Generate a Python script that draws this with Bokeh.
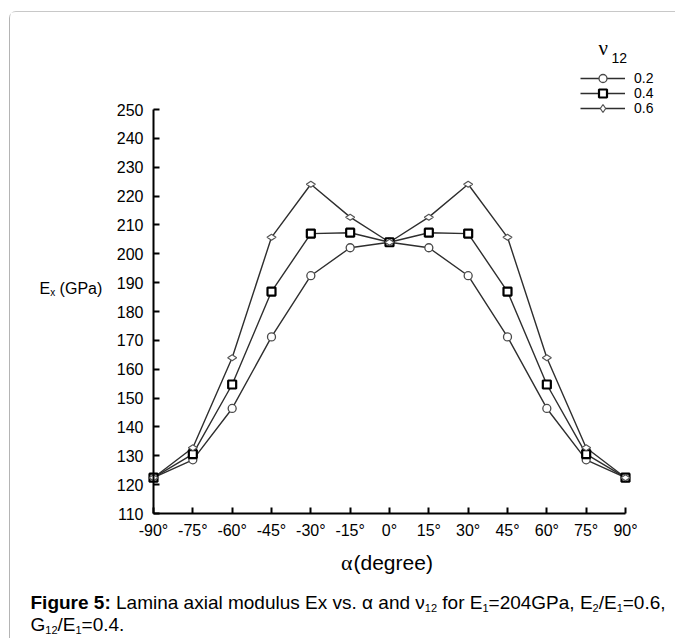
import math
from bokeh.plotting import figure
from bokeh.models import FixedTicker, Label, Legend, LegendItem
from bokeh.embed import file_html
from bokeh.resources import INLINE

# ---------------- data ----------------
alpha_deg = [-90, -75, -60, -45, -30, -15, 0, 15, 30, 45, 60, 75, 90]
ex_nu02 = [122.4, 128.6, 146.4, 171.2, 192.4, 202.1, 204.0, 202.1, 192.4, 171.2, 146.4, 128.6, 122.4]
ex_nu04 = [122.4, 130.6, 154.7, 186.9, 207.0, 207.3, 204.0, 207.3, 207.0, 186.9, 154.7, 130.6, 122.4]
ex_nu06 = [122.4, 132.8, 164.0, 205.7, 224.1, 212.7, 204.0, 212.7, 224.1, 205.7, 164.0, 132.8, 122.4]
series_labels = ["0.2", "0.4", "0.6"]
x_ticks = [-90, -75, -60, -45, -30, -15, 0, 15, 30, 45, 60, 75, 90]
x_tick_labels = ["-90°", "-75°", "-60°", "-45°", "-30°", "-15°", "0°", "15°", "30°", "45°", "60°", "75°", "90°"]
y_ticks = [110, 120, 130, 140, 150, 160, 170, 180, 190, 200, 210, 220, 230, 240, 250]
y_tick_labels = ["110", "120", "130", "140", "150", "160", "170", "180", "190", "200", "210", "220", "230", "240", "250"]

# ---------------- layout ----------------
OX, OY = 10, 12            # canvas origin on the page (after CSS margin + border)
W, H = 666, 627
AXL, AXR, AXT, AXB = 153, 625, 109, 513    # page pixels of x=-90, x=90, y=250, y=110
KX = 180.0 / (AXR - AXL)
KY = 140.0 / (AXB - AXT)
x_lo = -90 - (AXL - OX) * KX
x_hi = 90 + (OX + W - AXR) * KX
y_hi = 250 + (AXT - OY) * KY
y_lo = 110 - (OY + H - AXB) * KY
DY = -7   # baseline correction for text labels

p = figure(width=W, height=H, x_range=(x_lo, x_hi), y_range=(y_lo, y_hi),
           output_backend="svg", toolbar_location=None,
           min_border_left=0, min_border_right=0, min_border_top=0, min_border_bottom=0)
p.styles = {"border-left": "1px solid #b4b4b4", "border-top": "1px solid #c8c8c8",
            "border-top-left-radius": "7px", "margin-left": "9px", "margin-top": "11px"}
p.grid.visible = False
p.outline_line_color = None
p.background_fill_color = "white"
p.border_fill_color = "white"

for ax in (p.xaxis[0], p.yaxis[0]):
    ax.axis_line_width = 2
    ax.axis_line_color = "black"
    ax.major_tick_line_width = 2
    ax.major_tick_line_color = "black"
    ax.major_tick_in = 6
    ax.major_tick_out = 0
    ax.minor_tick_line_color = None
    ax.major_label_text_font = "Liberation Sans"
    ax.major_label_text_font_size = "16px"
    ax.major_label_text_color = "black"

p.yaxis.fixed_location = -90
p.yaxis.bounds = (110, 250)
p.yaxis.ticker = FixedTicker(ticks=y_ticks)
p.yaxis.major_label_overrides = {t: l for t, l in zip(y_ticks, y_tick_labels)}
p.yaxis.major_label_standoff = 10
p.xaxis.fixed_location = 110
p.xaxis.bounds = (-90, 90)
p.xaxis.ticker = FixedTicker(ticks=x_ticks)
p.xaxis.major_label_overrides = {t: l for t, l in zip(x_ticks, x_tick_labels)}
p.xaxis.major_label_standoff = 8

# ---------------- series ----------------
line_color = "#2e2e2e"
l02 = p.line(alpha_deg, ex_nu02, line_color=line_color, line_width=1.4)
l04 = p.line(alpha_deg, ex_nu04, line_color=line_color, line_width=1.4)
l06 = p.line(alpha_deg, ex_nu06, line_color=line_color, line_width=1.4)
m02 = p.scatter(alpha_deg, ex_nu02, marker="circle", size=8, fill_color="white",
                line_color="#4a4a4a", line_width=1.3)
m04 = p.scatter(alpha_deg, ex_nu04, marker="square", size=8, fill_color="white",
                line_color="black", line_width=2.2)
m06 = p.scatter(alpha_deg, ex_nu06, marker="diamond", size=9, angle=math.pi / 2,
                fill_color="white", line_color="#555555", line_width=1.2)

# ---------------- legend ----------------
row_y = [78, 93, 108]
for name, lr, mr, ry in zip(series_labels, [l02, l04, l06], [m02, m04, m06], row_y):
    leg = Legend(items=[LegendItem(label=name, renderers=[lr, mr])],
                 location=(580 - OX, OY + H - (ry + 10)),
                 glyph_width=45, glyph_height=20, label_height=20, label_standoff=9,
                 padding=0, margin=0, spacing=0,
                 border_line_color=None, background_fill_alpha=0,
                 label_text_font="Liberation Sans", label_text_font_size="14px",
                 label_text_color="black")
    p.add_layout(leg)


def txt(s, px, py, size, font="Liberation Sans", style="normal", align="left"):
    p.add_layout(Label(x=px - OX, y=OY + H - (py + DY), x_units="screen", y_units="screen",
                       text=s, text_font=font, text_font_size=f"{size}px",
                       text_font_style=style, text_align=align,
                       text_baseline="alphabetic", text_color="black"))


# ---------------- text helpers (Arial / Liberation Sans advance widths) ----------------
AR = {' ': 278, '(': 333, ')': 333, ',': 278, '-': 333, '.': 278, '/': 278, ':': 278, '=': 584,
      'A': 667, 'E': 667, 'F': 611, 'G': 778, 'L': 556, 'P': 667, 'a': 556, 'd': 556, 'e': 556,
      'f': 278, 'g': 556, 'i': 222, 'l': 222, 'm': 833, 'n': 556, 'o': 556, 'r': 333, 's': 500,
      'u': 556, 'v': 500, 'x': 500, 'α': 578, 'ν': 500}
AB = {' ': 278, ':': 333, 'F': 611, 'i': 278, 'g': 611, 'u': 611, 'r': 389, 'e': 556}


def text_width(s, size, bold=False):
    tab = AB if bold else AR
    return sum((556 if ch.isdigit() else tab.get(ch, 556)) for ch in s) * size / 1000.0


def run(pieces, x0, base, size, subsize, sub_drop=5.5):
    x = x0
    for s, kind in pieces:
        fs = subsize if kind == "s" else size
        bold = kind == "b"
        lead = len(s) - len(s.lstrip(" "))
        x += lead * AR[' '] * fs / 1000.0
        s = s.lstrip(" ")
        txt(s, x, base + (sub_drop if kind == "s" else 0), fs, style="bold" if bold else "normal")
        x += text_width(s, fs, bold=bold)


# legend title  ν12
txt("ν", 598, 54, 21, font="Liberation Serif")
txt("12", 611, 64, 14)

# y-axis title  Ex (GPa)
run([("E", "n"), ("x", "s"), (" (GPa)", "n")], 39, 295, 16, 10, sub_drop=3.5)

# x-axis title  α(degree)
txt("α", 352, 569, 22, font="Liberation Serif", align="right")
txt("(degree)", 353, 569, 21)

# ---------------- caption ----------------
run([("Figure 5:", "b"), (" Lamina axial modulus Ex vs. α and ν", "n"), ("12", "s"),
     (" for E", "n"), ("1", "s"), ("=204GPa, E", "n"), ("2", "s"), ("/E", "n"), ("1", "s"),
     ("=0.6,", "n")], 30, 609, 19, 11)
run([("G", "n"), ("12", "s"), ("/E", "n"), ("1", "s"), ("=0.4.", "n")], 30, 631, 19, 11)

open("out.html", "w").write(file_html(p, INLINE))
